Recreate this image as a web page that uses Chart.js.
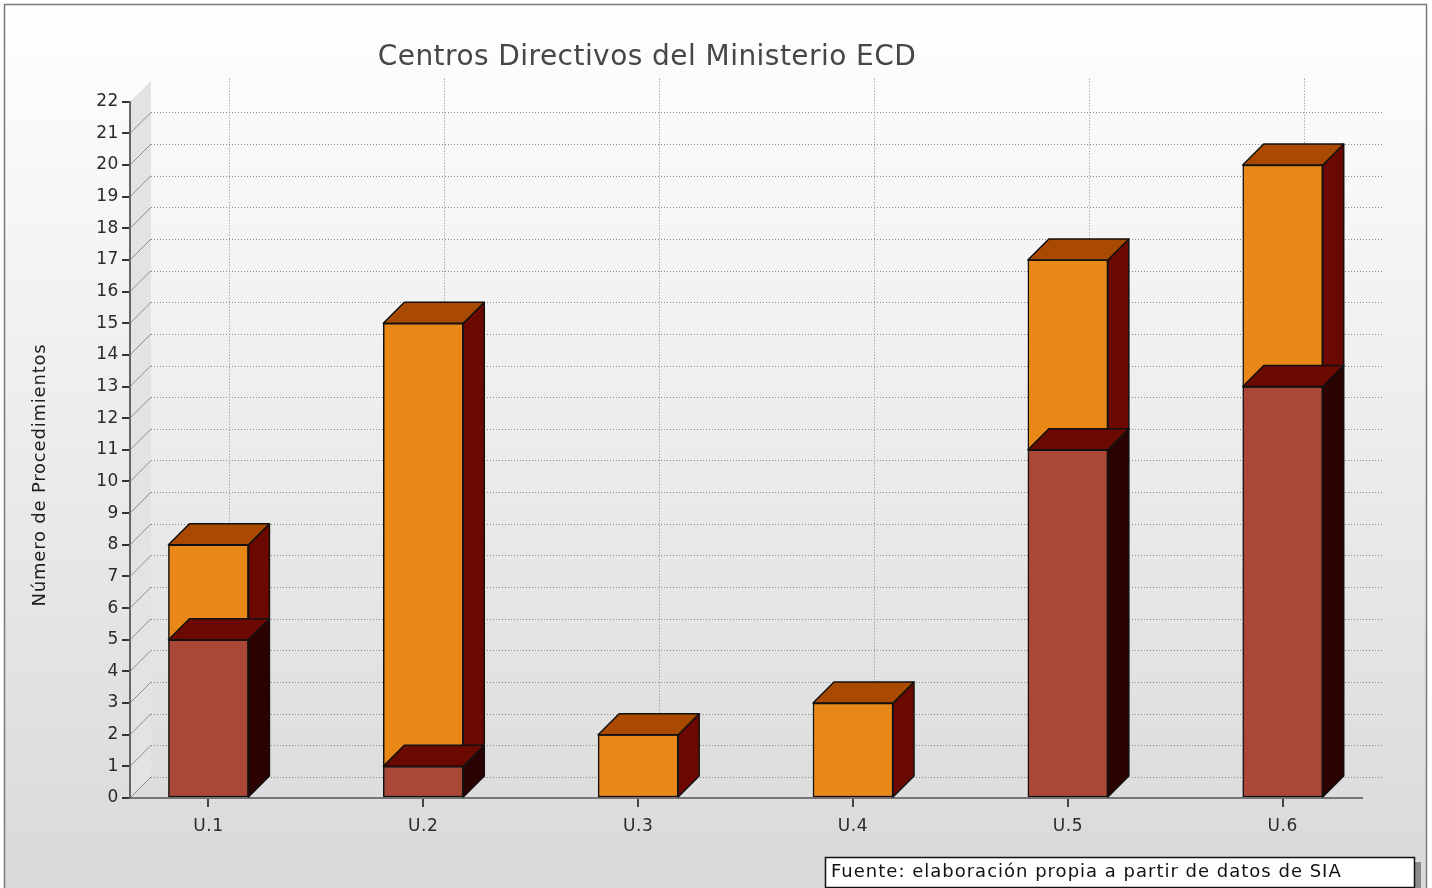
<!DOCTYPE html>
<html>
<head>
<meta charset="utf-8">
<script src="https://cdn.jsdelivr.net/npm/chart.js"></script>
<style>
  html, body { margin: 0; padding: 0; background: #fff; }
  #wrap { width: 1432px; height: 888px; }
</style>
</head>
<body>
<div id="wrap"><canvas id="chart"></canvas></div>
<script>
const categories = ['U.1', 'U.2', 'U.3', 'U.4', 'U.5', 'U.6'];
const bottomValues = [5, 1, 0, 0, 11, 13];
const topValues = [3, 14, 2, 3, 6, 7];
const yMin = 0, yMax = 22, yStep = 1;
const chartTitle = 'Centros Directivos del Ministerio ECD';
const yTitle = 'Número de Procedimientos';
const sourceNote = 'Fuente: elaboración propia a partir de datos de SIA';

const depth = 21;
const FONT = '"DejaVu Sans", Verdana, sans-serif';

function toPoints(values) {
  return values.map((v, i) => ({x: i, y: v}));
}

// background, back wall, dotted grid, 3d faces of the bars, texts
const threeD = {
  id: 'threeD',
  beforeDraw(chart) {
    const ctx = chart.ctx;
    const W = chart.width, H = chart.height;
    const {left, right, top, bottom} = chart.chartArea;
    const ys = chart.scales.y, xs = chart.scales.x;
    ctx.save();
    ctx.fillStyle = '#fff';
    ctx.fillRect(0, 0, W, H);
    const g = ctx.createLinearGradient(0, 0, 0, H);
    g.addColorStop(0, '#ffffff');
    g.addColorStop(0.08, '#fcfcfc');
    g.addColorStop(1, '#d9d9d9');
    ctx.fillStyle = g;
    ctx.fillRect(4.5, 4.5, 1422, H);
    ctx.strokeStyle = '#7a7a7a';
    ctx.lineWidth = 1.5;
    ctx.strokeRect(4.5, 4.5, 1422, H + 10);

    // left wall
    ctx.fillStyle = '#e3e3e3';
    ctx.beginPath();
    ctx.moveTo(left, top);
    ctx.lineTo(left + depth, top - depth);
    ctx.lineTo(left + depth, bottom - depth);
    ctx.lineTo(left, bottom);
    ctx.closePath();
    ctx.fill();

    ctx.lineWidth = 1;
    for (let v = yMin; v < yMax; v += yStep) {
      const py = ys.getPixelForValue(v);
      ctx.setLineDash([]);
      ctx.strokeStyle = '#8e8e8e';
      ctx.beginPath();
      ctx.moveTo(left, py);
      ctx.lineTo(left + depth, py - depth);
      ctx.stroke();
      const gy = Math.round(py - depth) + 0.5;
      ctx.setLineDash([1, 2]);
      ctx.strokeStyle = '#8a8a8a';
      ctx.beginPath();
      ctx.moveTo(left + depth, gy);
      ctx.lineTo(right + depth, gy);
      ctx.stroke();
    }
    categories.forEach((c, i) => {
      const px = Math.round(xs.getPixelForValue(i) + depth) + 0.5;
      ctx.beginPath();
      ctx.moveTo(px, top - depth - 2);
      ctx.lineTo(px, bottom - depth);
      ctx.stroke();
    });
    ctx.restore();
    // wider spacing for the axis labels, like the original renderer
    ctx.letterSpacing = '0.6px';
  },
  afterDatasetDraw(chart, args) {
    const ctx = chart.ctx;
    const ds = chart.data.datasets[args.meta.index];
    ctx.save();
    ctx.strokeStyle = '#111';
    ctx.lineWidth = 1.5;
    ctx.lineJoin = 'round';
    args.meta.data.forEach(bar => {
      const {x, y, base, width} = bar.getProps(['x', 'y', 'base', 'width'], true);
      if (Math.abs(base - y) < 0.5) return;
      const l = x - width / 2, r = x + width / 2;
      // side
      ctx.fillStyle = ds.sideColor;
      ctx.beginPath();
      ctx.moveTo(r, y);
      ctx.lineTo(r + depth, y - depth);
      ctx.lineTo(r + depth, base - depth);
      ctx.lineTo(r, base);
      ctx.closePath();
      ctx.fill();
      ctx.stroke();
      // top
      ctx.fillStyle = ds.topColor;
      ctx.beginPath();
      ctx.moveTo(l, y);
      ctx.lineTo(r, y);
      ctx.lineTo(r + depth, y - depth);
      ctx.lineTo(l + depth, y - depth);
      ctx.closePath();
      ctx.fill();
      ctx.stroke();
    });
    ctx.restore();
  },
  afterDraw(chart) {
    const ctx = chart.ctx;
    ctx.save();
    ctx.fillStyle = '#474747';
    ctx.font = '28px ' + FONT;
    ctx.letterSpacing = '0.45px';
    ctx.textAlign = 'center';
    ctx.textBaseline = 'middle';
    ctx.fillText(chartTitle, 647, 58);

    ctx.translate(40, 475);
    ctx.rotate(-Math.PI / 2);
    ctx.fillStyle = '#1e1e1e';
    ctx.font = '18px ' + FONT;
    ctx.letterSpacing = '0.8px';
    ctx.fillText(yTitle, 0, 0);
    ctx.setTransform(1, 0, 0, 1, 0, 0);

    // source box
    ctx.fillStyle = '#8a8a8a';
    ctx.fillRect(1415, 862, 6, 30);
    ctx.fillStyle = '#fff';
    ctx.fillRect(825.5, 857.5, 589, 30);
    ctx.strokeStyle = '#111';
    ctx.lineWidth = 1.5;
    ctx.strokeRect(825.5, 857.5, 589, 30);
    ctx.fillStyle = '#111';
    ctx.font = '18px ' + FONT;
    ctx.letterSpacing = '1px';
    ctx.textAlign = 'left';
    ctx.fillText(sourceNote, 831, 872);
    ctx.restore();
  }
};

const tickFont = {family: FONT, size: 17};

new Chart(document.getElementById('chart'), {
  type: 'bar',
  data: {
    datasets: [
      {
        label: 'Serie 1',
        data: toPoints(bottomValues),
        backgroundColor: '#ab4737',
        topColor: '#6b0900',
        sideColor: '#2b0200'
      },
      {
        label: 'Serie 2',
        data: toPoints(topValues),
        backgroundColor: '#ea8817',
        topColor: '#a94a00',
        sideColor: '#6b0900'
      }
    ]
  },
  options: {
    responsive: true,
    maintainAspectRatio: false,
    animation: false,
    layout: {padding: {top: 101.7, right: 70, left: 0, bottom: 0}},
    plugins: {legend: {display: false}, tooltip: {enabled: false}},
    datasets: {
      bar: {
        barThickness: 80,
        borderColor: '#111',
        borderWidth: ctx => (ctx.raw && ctx.raw.y === 0 ? 0 : 1.5),
        borderSkipped: false
      }
    },
    scales: {
      x: {
        type: 'linear',
        stacked: true,
        offset: false,
        min: -0.365,
        max: 5.369,
        afterFit: s => { s.height = 90; },
        ticks: {
          stepSize: 1,
          includeBounds: false,
          autoSkip: false,
          maxRotation: 0,
          callback: v => categories[v],
          font: tickFont,
          color: '#2a2a2a',
          padding: 9
        },
        grid: {offset: false, drawOnChartArea: false, tickLength: 9, color: '#444', lineWidth: 2},
        border: {color: '#777', width: 2}
      },
      y: {
        stacked: true,
        min: yMin,
        max: yMax,
        afterFit: s => { s.width = 130; },
        ticks: {stepSize: yStep, font: tickFont, color: '#2a2a2a', padding: 3},
        grid: {drawOnChartArea: false, tickLength: 8, color: '#333', lineWidth: 2},
        border: {color: '#666', width: 2}
      }
    }
  },
  plugins: [threeD]
});
</script>
</body>
</html>
